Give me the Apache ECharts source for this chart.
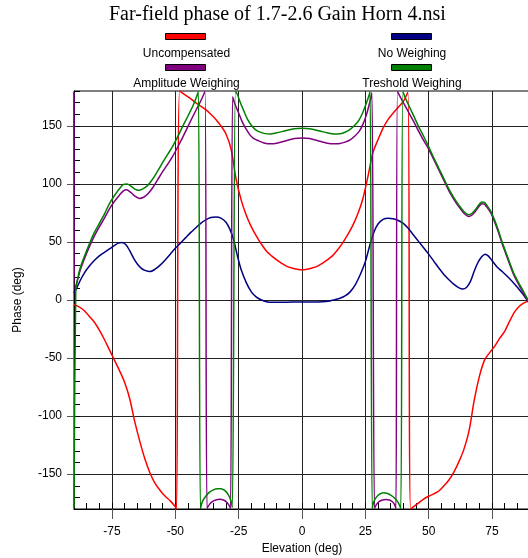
<!DOCTYPE html>
<html><head><meta charset="utf-8">
<script src="https://cdn.jsdelivr.net/npm/echarts@6/dist/echarts.min.js"></script>
<style>html,body{margin:0;padding:0;background:#fff}#c{width:528px;height:558px}</style>
</head><body><div id="c"></div><script>
const titleText = 'Far-field phase of 1.7-2.6 Gain Horn 4.nsi';
const xAxisName = 'Elevation (deg)';
const yAxisName = 'Phase (deg)';
const seriesNames = ['Uncompensated', 'No Weighing', 'Amplitude Weighing', 'Treshold Weighing'];
const seriesColors = ['#ff0000', '#000080', '#800080', '#008000'];
const xTickLabels = [-75, -50, -25, 0, 25, 50, 75];
const yTickLabels = [-150, -100, -50, 0, 50, 100, 150];

const uncompensated = [[-90,-4],[-88,-6],[-86,-9],[-84,-14],[-82,-19],[-80,-26],[-78,-34],[-76,-43],[-74,-52],[-72,-61],[-70,-71],[-68,-85],[-66,-105],[-64,-122],[-62,-137],[-60,-149],[-58,-158],[-56,-164],[-54,-169],[-52,-173],[-50,-178],[-49.5,-180],[-48.3,180],[-46,176.5],[-44,173.5],[-42,170],[-40,167],[-38,164],[-36,160],[-34,155.5],[-32,150],[-30,143],[-28,130],[-26,104],[-24,86],[-22,73],[-20,63],[-18,55],[-16,48],[-14,42],[-12,38],[-10,34.5],[-8,31.5],[-6,29],[-4,27.5],[-2,26.5],[0,26],[2,26.5],[4,27.5],[6,29],[8,31.5],[10,34.5],[12,38],[14,43],[16,49],[18,56],[20,64],[22,74],[24,87],[26,106],[28,127],[30,138],[32,148],[34,155.5],[36,161],[38,166],[40,171],[41.8,179],[42.9,-180],[45,-176.5],[48,-171.5],[50,-169],[52,-167],[54,-164.5],[56,-160],[58,-155],[60,-148],[62,-139],[64,-128],[66,-112],[68,-86],[70,-66],[72,-52],[74,-45.5],[76,-40],[78,-33],[80,-27],[82,-18],[84,-10],[86,-5],[88,-2],[90,-1]];

const noWeighing = [[-90,6],[-89,10],[-87.5,17],[-86,23],[-84,29],[-82,34],[-80,38],[-78,41],[-76,44],[-74,47],[-72.5,49],[-71,49.5],[-69.5,47.5],[-68,42.5],[-66.5,36],[-65,31],[-63.5,27.5],[-62,25.5],[-60,24.5],[-58,26.5],[-56,30],[-54,34.5],[-52,39.5],[-50,44.5],[-48,49],[-46,53.5],[-44,58],[-42,62],[-40,66],[-38,69],[-36,71],[-34,71.5],[-32,70.5],[-30,67],[-28.5,61],[-27,52],[-25.5,38],[-24,26],[-22,15],[-20,7],[-18,2.5],[-16,0],[-14,-1.5],[-12,-2],[-8,-2],[-4,-1.8],[0,-1.8],[4,-1.8],[8,-1.6],[11,-0.8],[13,0.3],[15,1.5],[17,3.5],[19,7],[21,13],[23,22],[25,33],[27,49],[28.5,59],[30,65.5],[32,69.5],[34,70.5],[36,70],[38,68.5],[40,66],[42,61.5],[44,56],[46,50.5],[48,45],[50,39.5],[52,33.5],[54,27.5],[56,22],[58,17.5],[60,13.5],[62,10.5],[63.5,9.5],[65,11],[66.5,16],[68,25],[69.5,32.5],[71,37.5],[72.3,39.5],[73.5,38],[75,34],[77,28.5],[79,24.5],[81,20.5],[83,16],[85,11],[87,5.5],[88.5,1],[90,-3]];

const amplitudeWeighing = [[-90,179],[-89.6,9],[-88.5,18],[-87.5,26],[-86,35],[-84,45.5],[-82,55],[-80,63],[-78,70.5],[-76,78.5],[-74,85],[-72,90.5],[-70.5,94],[-69.3,95],[-67.5,92.5],[-66,89.5],[-64.3,87.5],[-62.5,88.5],[-61,91],[-59,96.5],[-57,103.5],[-55,110.5],[-53,117],[-51,124],[-49,132],[-47,140.5],[-45,149.5],[-43,158.5],[-41,167],[-39.5,173.5],[-38.3,179.5],[-37.5,-179.5],[-36.5,-176],[-35.3,-173.5],[-34,-172.2],[-32.5,-171.7],[-31,-172.3],[-29.8,-174],[-28.9,-176.5],[-28.2,-179.5],[-27.4,175],[-26.5,169],[-25,161],[-23.5,153],[-22,147],[-20.5,142],[-19,139],[-17,137],[-15,135.3],[-12.5,134.5],[-10,135],[-7,136.8],[-3,139],[0,139.5],[3,139],[7,136.8],[10,135],[13,134.5],[15,134.8],[17,136],[19,138],[21,141.5],[22.5,145],[24,151],[25.5,160],[26.7,170],[27.6,178.5],[28.6,-179.5],[29.3,-176.5],[30.5,-173.5],[31.8,-172.2],[33,-171.8],[34.5,-172.3],[35.8,-174],[36.6,-176.5],[37.1,-179.5],[37.7,179.5],[39,174],[40.5,168],[42,162],[44,154],[46,145.5],[48,137.5],[50,130],[52,121],[54,112],[56,103],[58,94],[60,86.5],[62,80],[64,74.5],[65.8,72],[67,73],[68.5,76.5],[70,81],[71,83],[72,82.5],[73,80],[74.5,75],[76,67.5],[77.5,58.5],[79,48.5],[80.5,39.5],[82,30.5],[83.5,22],[85,15.5],[86.5,9.5],[88,3.5],[89,0],[90,-4]];

const tresholdWeighing = [[-90,-179],[-89.3,9],[-88.5,19],[-87.5,28],[-86,37],[-84,48],[-82,58],[-80,66],[-78,74],[-76,83],[-74,90],[-72,96],[-70.5,99.5],[-69,100],[-67.5,98],[-66,95.5],[-64.5,94.5],[-63,95.5],[-61,98.5],[-59,104],[-57,111],[-55,118.5],[-53,125.5],[-51,132.5],[-49,141],[-47,150],[-45,158.5],[-43,167.5],[-41.8,174],[-40.9,179.5],[-40.1,-179.5],[-39.2,-173],[-38,-169],[-36.5,-165.5],[-35,-163.5],[-33.5,-162.5],[-32,-162.5],[-30.5,-164],[-29.3,-167],[-28.2,-172],[-27.5,-178.5],[-26.3,179.5],[-25.5,177],[-24.5,171],[-23,163],[-21.5,155.5],[-20,150.5],[-18.5,147],[-17,145],[-15,143.5],[-12.5,143],[-10,144],[-7,145.5],[-3,147.5],[0,148],[3,147.5],[7,145.5],[10,144],[12.5,143],[15,143.2],[17,144.5],[19,147],[21,151],[22.5,155],[24,161.5],[25.5,170],[26.4,176],[26.9,179.5],[27.7,-179.5],[28.3,-174],[29.3,-170],[30.5,-167.5],[32,-166],[33.5,-166.5],[35,-168],[36.5,-170.5],[38,-174.5],[39,-179.5],[39.8,179.5],[41,173],[42.5,166],[44,159],[46,149.5],[48,141],[50,132],[52,122.5],[54,113.5],[56,104.5],[58,95.5],[60,88],[62,81.5],[64,76],[65.7,73.5],[67,74.5],[68.5,78],[70,82.5],[71,84.5],[72,84],[73,81.5],[74.5,76.5],[76,69],[77.5,60],[79,50],[80.5,41],[82,32],[83.5,23.5],[85,17],[86.5,11],[88,5],[89,1],[90,-3]];

const seriesData = [uncompensated, noWeighing, amplitudeWeighing, tresholdWeighing];

const SANS = '"Liberation Sans", Arial, Helvetica, sans-serif';
const SERIF = '"Liberation Serif", "Times New Roman", serif';

const legendPos = [[165, 33], [391, 33], [165, 64], [391, 64]];
const legendLabelPos = [[186.5, 54], [412, 54], [186.5, 84], [412, 84]];

const chart = echarts.init(document.getElementById('c'), null, { renderer: 'canvas' });

const option = {
  animation: false,
  backgroundColor: '#ffffff',
  title: {
    text: titleText, left: 109, top: 5, padding: 0,
    textStyle: { fontFamily: SERIF, fontSize: 20, fontWeight: 'normal', color: '#000' }
  },
  legend: seriesNames.map((n, i) => ({
    data: [n], left: legendPos[i][0], top: legendPos[i][1], padding: 0,
    icon: 'rect', itemWidth: 40, itemHeight: 6, selectedMode: false,
    formatter: () => '',
    itemStyle: { borderColor: '#000', borderWidth: 1 }
  })),
  graphic: seriesNames.map((n, i) => ({
    type: 'text', x: legendLabelPos[i][0], y: legendLabelPos[i][1], silent: true,
    style: { text: n, fill: '#000', font: '12px ' + SANS, align: 'center', verticalAlign: 'middle' }
  })),
  grid: { left: 74, right: -2, top: 91, bottom: 49, show: true, borderColor: '#000', borderWidth: 1, containLabel: false, outerBoundsMode: 'none' },
  xAxis: [
    { type: 'value', min: -90, max: 90, interval: 5, position: 'bottom',
      axisLine: { show: true, onZero: false, lineStyle: { color: '#000', width: 1 } },
      axisTick: { show: true, inside: true, length: 6, lineStyle: { color: '#000' } },
      axisLabel: { show: false }, splitLine: { show: false } },
    { type: 'value', min: -90, max: 90, position: 'bottom',
      axisLine: { show: false, onZero: false },
      axisTick: { show: true, inside: false, length: 10, customValues: xTickLabels, lineStyle: { color: '#555' } },
      axisLabel: { show: true, customValues: xTickLabels, margin: 17, color: '#000', fontSize: 12, fontFamily: SANS },
      splitLine: { show: true, lineStyle: { color: '#222', width: 1 } },
      name: xAxisName, nameLocation: 'middle', nameGap: 32,
      nameTextStyle: { color: '#000', fontSize: 12, fontFamily: SANS } }
  ],
  yAxis: [
    { type: 'value', min: -180, max: 180, interval: 10, position: 'left',
      axisLine: { show: true, onZero: false, lineStyle: { color: '#000', width: 1 } },
      axisTick: { show: true, inside: true, length: 6, lineStyle: { color: '#000' } },
      axisLabel: { show: false }, splitLine: { show: false } },
    { type: 'value', min: -180, max: 180, position: 'left',
      axisLine: { show: false, onZero: false },
      axisTick: { show: true, inside: false, length: 7, customValues: yTickLabels, lineStyle: { color: '#555' } },
      axisLabel: { show: true, customValues: yTickLabels, margin: 12, color: '#000', fontSize: 12, fontFamily: SANS },
      splitLine: { show: true, lineStyle: { color: '#222', width: 1 } },
      name: yAxisName, nameLocation: 'middle', nameGap: 50,
      nameTextStyle: { color: '#000', fontSize: 12, fontFamily: SANS } }
  ],
  series: seriesNames.map((n, i) => ({
    name: n, type: 'line', xAxisIndex: 0, yAxisIndex: 0,
    data: seriesData[i], showSymbol: false, symbol: 'none', smooth: 0.3,
    clip: true, silent: true,
    lineStyle: { color: seriesColors[i], width: 1.5 },
    itemStyle: { color: seriesColors[i] },
    emphasis: { disabled: true }
  }))
};
chart.setOption(option);
</script></body></html>
